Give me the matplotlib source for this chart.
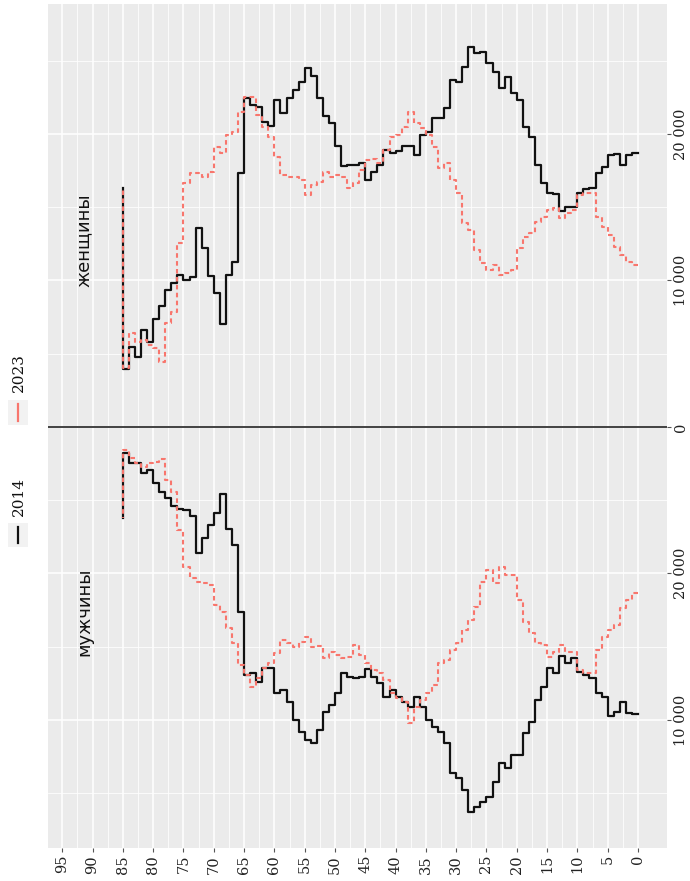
import numpy as np
import matplotlib
matplotlib.use('Agg')
import matplotlib.pyplot as plt
from matplotlib.lines import Line2D
from matplotlib.patches import Rectangle

# ages 0..85 (85 = 85+)
ages = list(range(86))

women_2014 = [18700, 18570, 17890, 18600, 18570, 17770, 17330, 16320, 16250, 15970,
              15020, 15020, 14770, 15900, 15970, 16680, 17890, 19790, 20480, 22320,
              22800, 23890, 23160, 24250, 24820, 25600, 25530, 25940, 24580, 23570,
              23690, 21770, 21090, 21090, 20140, 19930, 18570, 19180, 19180, 18860,
              18700, 18910, 17890, 17410, 16860, 18020, 17890, 17890, 17820, 19180,
              20750, 21230, 22450, 23960, 24500, 23550, 23000, 22450, 21430, 22320,
              20550, 20820, 21840, 21980, 22450, 17330, 11270, 10370, 7030, 9130,
              10300, 12220, 13580, 10240, 10030, 10370, 9830, 9350, 8260, 7400,
              5800, 6620, 4780, 5460, 3950, 16300]

women_2023 = [11060, 11260, 11740, 12290, 13110, 13650, 14340, 15970, 15970, 15840,
              14810, 14610, 14270, 14950, 14810, 14340, 14000, 13240, 12970, 12220,
              10720, 10510, 10380, 11060, 10720, 11190, 12080, 13450, 13930, 15970,
              16860, 18020, 17680, 19110, 19930, 20410, 20750, 21500, 20480, 19930,
              19800, 18910, 18020, 18270, 18230, 17540, 16650, 16320, 17070, 17200,
              17070, 17410, 16720, 16520, 15840, 16860, 17070, 17070, 17200, 18430,
              19800, 20480, 21300, 22530, 22530, 21500, 20140, 19930, 18700, 19110,
              17410, 17070, 17330, 17330, 16660, 12560, 7850, 7100, 4440, 5390,
              5600, 5940, 5800, 6400, 4030, 16300]

men_2014 = [19590, 19500, 18750, 19430, 19730, 18410, 18180, 17150, 16930, 16700,
            15790, 16130, 15630, 16810, 16470, 17730, 18640, 20120, 20910, 22390,
            22390, 23300, 22960, 24210, 25240, 25580, 25920, 26260, 24780, 23980,
            23640, 21590, 20800, 20460, 20000, 19090, 18410, 19090, 18750, 18410,
            17950, 18410, 17500, 17040, 16540, 17040, 17160, 17090, 16810, 18180,
            18980, 19430, 20680, 21590, 21370, 20800, 20000, 18750, 17950, 18180,
            16470, 16470, 17380, 16810, 16930, 12610, 8050, 6980, 4570, 5890,
            6690, 7600, 8620, 6080, 5670, 5620, 5390, 4870, 4420, 3850,
            2940, 3120, 2480, 2480, 1800, 6210]

men_2023 = [11350, 11810, 12380, 13520, 13860, 14310, 15220, 16810, 16810, 16590,
            15340, 15340, 14880, 15340, 15680, 14880, 14760, 14080, 13290, 11810,
            10100, 10100, 9540, 10670, 9760, 10560, 12270, 13170, 13860, 14760,
            15220, 15900, 16130, 17610, 18180, 18640, 19090, 20230, 18750, 18520,
            18180, 17270, 16810, 16590, 16130, 15560, 14880, 15680, 15790, 15560,
            15340, 15790, 14950, 14990, 14360, 14650, 14990, 14760, 14540, 15450,
            16130, 16470, 17150, 17730, 16930, 16250, 14760, 13740, 12610, 12150,
            10790, 10630, 10560, 10330, 9540, 7030, 4420, 3620, 2210, 2370,
            2480, 2710, 2480, 2140, 1570, 6210]

age_ticks = list(range(0, 96, 5))
pop_ticks = [-20000, -10000, 0, 10000, 20000]
pop_labels = ['10 000', '20 000', '0', '10 000', '20 000']

black = '#111111'
red = '#F8766D'
serif = 'DejaVu Serif'

fig = plt.figure(figsize=(6.9, 8.81), dpi=100)
ax = fig.add_axes([48 / 690, 1 - 848 / 881, 619 / 690, 844 / 881])
ax.set_facecolor('#EBEBEB')
for s in ax.spines.values():
    s.set_visible(False)

# women above the zero line, men below (mirrored)
ax.step(ages, women_2014, where='post', color=black, lw=1.6, zorder=3)
ax.step(ages, [-v for v in men_2014], where='post', color=black, lw=1.6, zorder=3)
ax.step(ages, women_2023, where='post', color=red, lw=1.5, ls=(0, (2.2, 1.6)), zorder=4)
ax.step(ages, [-v for v in men_2023], where='post', color=red, lw=1.5, ls=(0, (2.2, 1.6)), zorder=4)

ax.axhline(0, color='#222222', lw=1.2, zorder=2)

ax.set_xlim(97.36, -4.79)
ax.set_ylim(-28740, 28870)

ax.set_xticks(age_ticks)
ax.set_xticklabels([str(a) for a in age_ticks], rotation=90, family=serif, fontsize=10.5, color='#222222')
ax.set_xticks(np.arange(2.5, 97.5, 5), minor=True)
ax.yaxis.tick_right()
ax.set_yticks(pop_ticks)
ax.set_yticklabels(pop_labels, rotation=90, va='center', family=serif, fontsize=10.5, color='#222222')
ax.set_yticks([-25000, -15000, -5000, 5000, 15000, 25000], minor=True)
ax.tick_params(which='major', length=3, width=0.8, color='#555555', pad=2)
ax.tick_params(which='minor', length=0)
ax.grid(which='major', color='white', lw=1.1)
ax.grid(which='minor', color='white', lw=0.55)
ax.set_axisbelow(True)

ax.text(91.4, 12760, 'женщины', rotation=90, ha='center', va='center',
        fontsize=13, family='DejaVu Sans', color='#111111')
ax.text(91.4, -12630, 'мужчины', rotation=90, ha='center', va='center',
        fontsize=13, family='DejaVu Sans', color='#111111')

# legend, rotated like the rest of the chart
def fx(x):
    return x / 690

def fy(y):
    return 1 - y / 881

for (y0, y1, ty, col, lab) in [(523, 547, 497, black, '2014'), (400, 425, 373, red, '2023')]:
    fig.add_artist(Rectangle((fx(8), fy(y1)), fx(28) - fx(8), fy(y0) - fy(y1),
                             transform=fig.transFigure, fc='#F2F2F2', ec='none'))
    fig.add_artist(Line2D([fx(18), fx(18)], [fy(y1 - 4), fy(y0 + 4)],
                          transform=fig.transFigure, color=col, lw=1.6))
    fig.text(fx(19), fy(ty), lab, rotation=90, ha='center', va='center',
             family=serif, fontsize=11, color='#111111')

fig.savefig('out.png', dpi=100)
